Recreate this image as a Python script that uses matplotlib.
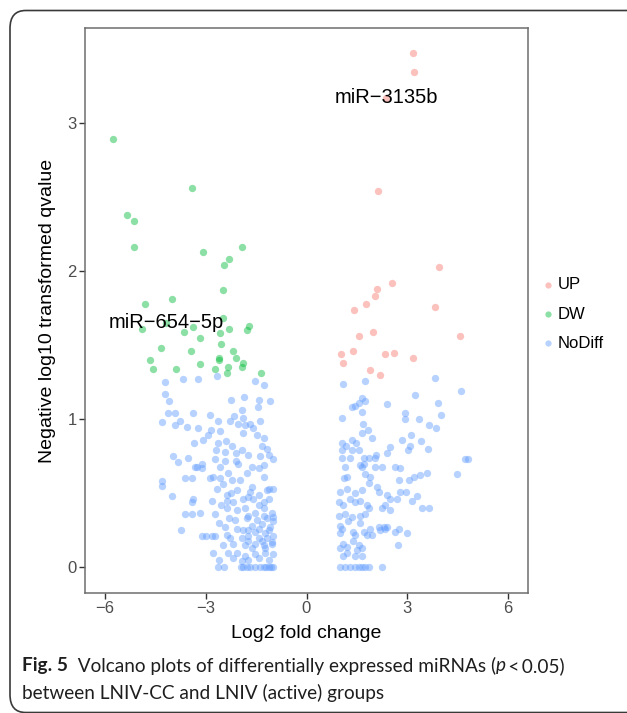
import matplotlib

matplotlib.use("Agg")
import matplotlib.pyplot as plt
from matplotlib.patches import FancyBboxPatch

# log2 fold change / -log10 qvalue
up_lfc = [3.16, 3.20, 2.37, 2.14, 3.94, 2.56, 2.11, 2.03, 1.76, 1.41, 3.82,
          1.99, 1.57, 4.56, 1.04, 1.40, 2.34, 2.60, 3.18, 1.09, 1.89, 2.19]
up_q = [3.47, 3.34, 3.17, 2.54, 2.03, 1.92, 1.88, 1.83, 1.78, 1.74, 1.76,
        1.59, 1.56, 1.56, 1.44, 1.46, 1.44, 1.45, 1.41, 1.38, 1.33, 1.30]

dw_lfc = [-5.76, -3.42, -5.34, -5.14, -5.13, -3.08, -1.92, -2.32, -2.46, -2.50,
          -4.80, -4.02, -4.89, -3.64, -3.37, -2.50, -2.30, -2.58, -1.70, -1.77,
          -3.16, -2.56, -4.35, -3.44, -2.18, -2.10, -2.60, -2.62, -4.67, -4.56,
          -3.88, -3.16, -2.73, -2.33, -2.38, -1.93, -1.88, -1.37, -4.19]
dw_q = [2.89, 2.56, 2.38, 2.34, 2.16, 2.13, 2.16, 2.08, 2.04, 1.87,
        1.78, 1.81, 1.61, 1.59, 1.62, 1.68, 1.61, 1.58, 1.63, 1.60,
        1.55, 1.51, 1.48, 1.46, 1.46, 1.41, 1.40, 1.41, 1.40, 1.34,
        1.34, 1.37, 1.34, 1.35, 1.31, 1.35, 1.38, 1.31, 1.65]

nd_lfc = [
    # left side
    -4.22, -3.67, -3.24, -2.68, -1.54, -1.28, -4.22, -4.09, -2.25, -1.86,
    -1.43, -1.10, -1.46, -4.14, -3.93, -3.37, -2.88, -1.93, -4.32, -3.77,
    -2.63, -2.28, -2.15, -1.90, -1.40, -3.92, -3.57, -3.22, -2.03, -1.83,
    -1.68, -1.58, -2.85, -2.58, -1.88, -1.48, -2.93, -1.28, -3.07, -3.35,
    -2.63, -2.41, -2.23, -1.33, -1.18, -2.70, -2.43, -2.11, -1.93, -1.73,
    -1.38, -1.13, -0.99, -3.97, -3.52, -3.82, -2.73, -2.43, -2.11, -3.12,
    -3.32, -2.58, -2.03, -1.63, -1.28,
    -4.30, -4.32, -4.00, -3.62, -3.42, -3.27, -3.12, -2.87, -2.78, -2.58,
    -2.23, -1.98, -2.33, -1.78, -1.43, -1.28, -2.68, -2.38, -2.08, -1.68,
    -1.43, -1.18, -0.99, -3.37, -3.42, -2.83, -2.38, -1.88, -1.58, -1.28,
    -3.62, -3.42, -3.17, -2.73, -2.38, -2.08, -1.83, -1.53, -1.28, -1.03,
    -2.13, -1.78, -1.48, -1.18, -0.99, -3.74, -2.43, -2.08, -1.73, -1.43,
    -1.13, -3.12, -2.98, -2.83, -2.73, -2.38, -2.28, -1.93, -1.73, -1.43,
    -1.18, -0.99, -2.18, -1.83, -1.53, -1.28, -1.03, -2.78, -2.33, -2.08,
    -1.83, -1.53, -1.23, -2.63, -2.45, -1.95, -1.88, -1.78, -1.68, -1.53,
    -1.40, -1.28, -1.20, -1.13, -1.05, -0.99,
    -1.63, -1.13, -1.73, -1.13, -1.43, -1.73, -1.28, -0.99, -1.63, -1.33,
    -1.08, -1.88, -1.53, -1.23, -1.73, -1.33, -1.03, -1.63, -1.23, -0.99,
    -1.43, -1.13, -1.73, -1.93, -2.48, -2.25, -2.55, -2.20, -2.60, -2.30,
    -2.50, -2.20, -2.60,
    # right side
    1.10, 1.75, 3.82, 4.61, 3.24, 1.35, 1.45, 1.65, 1.73, 1.57,
    2.40, 3.92, 1.65, 2.93, 2.93, 4.01, 1.05, 3.36, 1.67, 1.83,
    1.65, 3.64, 3.86, 3.12, 2.84, 1.95, 1.07, 1.17, 1.35, 1.47,
    3.42, 3.09, 2.50, 1.05, 1.37, 1.57, 3.01, 3.61, 2.40, 2.08,
    1.05, 1.30, 1.70, 1.85, 2.05, 1.70, 1.60, 4.72, 4.82, 1.15,
    1.65, 2.05, 2.25, 2.65, 2.80, 3.59, 4.49,
    1.13, 1.20, 1.75, 1.90, 1.85, 2.75, 3.04, 3.19, 3.39, 1.00,
    1.20, 1.45, 1.65, 2.10, 2.15, 2.40, 2.50, 2.70, 2.80, 2.95,
    3.29, 3.14, 0.96, 1.10, 1.30, 1.45, 1.60, 1.80, 1.85, 2.25,
    2.35, 2.50, 3.44, 3.64, 0.96, 1.15, 1.35, 1.60, 1.75, 1.00,
    1.05, 1.25, 1.60, 1.90, 2.15, 2.30, 2.40, 1.00, 1.40, 1.45,
    1.70, 1.80, 1.95, 2.20, 2.35, 2.65, 2.75, 2.99, 1.10, 1.40,
    1.55, 2.72, 1.00, 1.20, 1.50, 1.65, 1.10, 1.20, 1.45, 1.65,
    1.00, 1.15, 1.30, 1.45, 1.55, 1.65, 1.75, 1.85, 2.25,
]
nd_q = [
    1.25, 1.27, 1.27, 1.29, 1.26, 1.23, 1.17, 1.12, 1.13, 1.15,
    1.13, 1.12, 1.08, 1.04, 1.04, 1.04, 1.03, 1.06, 0.98, 0.99,
    0.99, 0.99, 1.02, 1.01, 0.99, 0.96, 0.95, 0.94, 0.97, 0.96,
    0.97, 0.94, 0.93, 0.92, 0.91, 0.89, 0.89, 0.87, 0.86, 0.84,
    0.84, 0.85, 0.82, 0.82, 0.80, 0.79, 0.78, 0.77, 0.79, 0.76,
    0.75, 0.76, 0.73, 0.75, 0.74, 0.71, 0.73, 0.72, 0.72, 0.70,
    0.68, 0.68, 0.70, 0.68, 0.69,
    0.58, 0.55, 0.48, 0.60, 0.60, 0.68, 0.67, 0.60, 0.61, 0.60,
    0.59, 0.59, 0.64, 0.64, 0.67, 0.61, 0.53, 0.49, 0.52, 0.51,
    0.49, 0.52, 0.53, 0.46, 0.44, 0.45, 0.45, 0.46, 0.46, 0.44,
    0.36, 0.36, 0.37, 0.36, 0.40, 0.39, 0.40, 0.37, 0.40, 0.37,
    0.32, 0.33, 0.32, 0.33, 0.31, 0.25, 0.27, 0.26, 0.25, 0.26,
    0.25, 0.21, 0.21, 0.21, 0.21, 0.22, 0.20, 0.20, 0.21, 0.20,
    0.20, 0.21, 0.16, 0.15, 0.16, 0.15, 0.16, 0.10, 0.10, 0.10,
    0.08, 0.09, 0.10, 0.00, 0.00, 0.00, 0.00, 0.00, 0.00, 0.00,
    0.00, 0.00, 0.00, 0.00, 0.00, 0.00,
    0.54, 0.53, 0.475, 0.46, 0.42, 0.35, 0.35, 0.34, 0.28, 0.295,
    0.27, 0.25, 0.24, 0.23, 0.18, 0.18, 0.17, 0.13, 0.13, 0.09,
    0.06, 0.05, 0.05, 0.04, 0.56, 0.50, 0.42, 0.44, 0.30, 0.33,
    0.15, 0.06, 0.05,
    1.24, 1.26, 1.28, 1.19, 1.16, 1.08, 1.09, 1.14, 1.12, 1.11,
    1.10, 1.11, 1.05, 1.04, 1.00, 1.03, 1.01, 1.00, 0.97, 0.93,
    0.91, 0.96, 0.94, 0.89, 0.86, 0.87, 0.84, 0.82, 0.86, 0.84,
    0.85, 0.82, 0.81, 0.79, 0.79, 0.79, 0.79, 0.80, 0.77, 0.76,
    0.74, 0.74, 0.74, 0.74, 0.74, 0.70, 0.69, 0.73, 0.73, 0.68,
    0.68, 0.68, 0.68, 0.68, 0.67, 0.64, 0.63,
    0.60, 0.61, 0.63, 0.61, 0.57, 0.59, 0.59, 0.61, 0.62, 0.51,
    0.53, 0.50, 0.52, 0.54, 0.51, 0.49, 0.46, 0.46, 0.51, 0.51,
    0.48, 0.45, 0.44, 0.42, 0.46, 0.44, 0.45, 0.42, 0.40, 0.40,
    0.42, 0.39, 0.40, 0.40, 0.35, 0.36, 0.34, 0.35, 0.36, 0.28,
    0.26, 0.31, 0.30, 0.26, 0.27, 0.27, 0.27, 0.23, 0.24, 0.22,
    0.24, 0.22, 0.22, 0.25, 0.26, 0.24, 0.26, 0.23, 0.16, 0.18,
    0.15, 0.15, 0.13, 0.14, 0.12, 0.13, 0.08, 0.10, 0.08, 0.08,
    0.00, 0.00, 0.00, 0.00, 0.00, 0.00, 0.00, 0.00, 0.00,
]

labels = ["miR\u22123135b", "miR\u2212654\u22125p"]
label_lfc = [2.37, -4.19]
label_q = [3.17, 1.65]

x_ticks = [-6, -3, 0, 3, 6]
y_ticks = [0, 1, 2, 3]

W, H = 627, 713


def main():
    plt.rcParams["font.family"] = ["Liberation Sans", "DejaVu Sans"]
    fig = plt.figure(figsize=(W / 100, H / 100), dpi=100)

    # rounded frame around the whole figure panel
    frame = FancyBboxPatch((10 / W, 0.5 / H), 700 / W, 702 / H,
                           boxstyle="round,pad=0,rounding_size=0.025",
                           transform=fig.transFigure, fill=False,
                           edgecolor="#3a3a3a", linewidth=1.2)
    fig.patches.append(frame)

    ax = fig.add_axes([85 / W, 1 - 593 / H, 443 / W, 565 / H])
    groups = [("UP", up_lfc, up_q, "#F8766D"),
              ("DW", dw_lfc, dw_q, "#00BA38"),
              ("NoDiff", nd_lfc, nd_q, "#619CFF")]
    handles = []
    for name, xs, ys, col in groups:
        h = ax.scatter(xs, ys, s=28, color=col, alpha=0.45, linewidths=0,
                       label=name)
        handles.append(h)

    for lab, x, y in zip(labels, label_lfc, label_q):
        ax.text(x, y, lab, ha="center", va="center", fontsize=14.5,
                color="black")

    ax.set_xlim(-6.6, 6.6)
    ax.set_ylim(-0.173, 3.64)
    ax.set_xticks(x_ticks)
    ax.set_xticklabels([str(t).replace("-", "\u2212") for t in x_ticks])
    ax.set_yticks(y_ticks)
    for sp in ax.spines.values():
        sp.set_color("#6e6e6e")
        sp.set_linewidth(1.1)
    ax.tick_params(length=4, width=1, color="#333333", labelcolor="#4d4d4d",
                   labelsize=12, pad=2)
    ax.set_xlabel("Log2 fold change", fontsize=14, labelpad=6)
    ax.set_ylabel("Negative log10 transformed qvalue", fontsize=14,
                  labelpad=8)

    fig.legend(handles=handles, loc="center left",
               bbox_to_anchor=(531 / W, 1 - 314 / H), frameon=False,
               fontsize=12, handletextpad=0.1, labelspacing=0.85,
               handlelength=1.0, borderpad=0, scatterpoints=1,
               markerscale=0.85)

    # caption, drawn piece by piece so bold / italic parts line up
    renderer = fig.canvas.get_renderer()
    cap_font = ["Lato", "DejaVu Sans"]
    cap_size = 13.7
    y1 = 1 - 666 / H
    x = 22 / W
    pieces = [("Fig. 5", "bold", "normal"),
              ("  Volcano plots of differentially expressed miRNAs (", "normal", "normal"),
              ("p", "normal", "italic"),
              ("\u2009<\u20090.05)", "normal", "normal")]
    for txt, weight, style in pieces:
        t = fig.text(x, y1, txt, fontsize=cap_size, family=cap_font,
                     weight=weight, style=style, va="center", ha="left",
                     color="#1e1e1e")
        bb = t.get_window_extent(renderer)
        x = bb.x1 / W
    fig.text(22 / W, 1 - 693 / H, "between LNIV-CC and LNIV (active) groups",
             fontsize=cap_size, family=cap_font, va="center", ha="left",
             color="#1e1e1e")

    fig.savefig("out.png", dpi=100)


if __name__ == "__main__":
    main()
